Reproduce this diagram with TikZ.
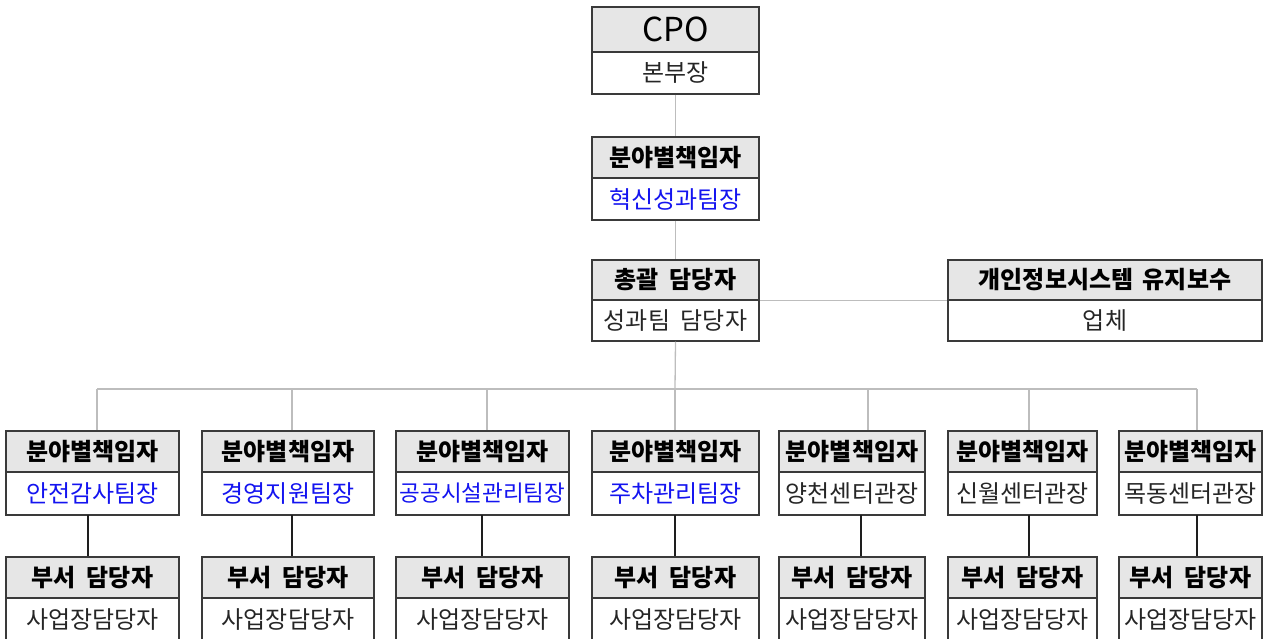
\documentclass[tikz,border=0pt]{standalone}
\usepackage{fontspec}
\setmainfont{Noto Sans CJK KR}
\definecolor{boxc}{HTML}{3A3A3A}
\definecolor{hdrfill}{HTML}{E6E6E6}
\definecolor{linkgray}{HTML}{BDBDBD}
\definecolor{linkdark}{HTML}{1E1E1E}
\definecolor{bluetxt}{HTML}{1414F0}
\tikzset{
  hdr/.style={draw=boxc, fill=hdrfill, line width=1.1pt, inner sep=0pt, text=black,
    font=\bfseries\fontsize{24}{28}\selectfont},
  bdy/.style={draw=boxc, fill=white, line width=1.1pt, inner sep=0pt, text=black!85,
    font=\fontsize{24}{28}\selectfont},
  bluebody/.style={text=bluetxt},
  graylink/.style={draw=linkgray, line width=1.3pt},
  darklink/.style={draw=linkdark, line width=1.1pt},
}
% name, x1, x2, ytop, ymid, ybot, header, body style, body text
\newcommand\obox[9]{%
  \node[hdr, minimum width={(#3-#2)*1pt}, minimum height={(#5-#4)*1pt}]
    (#1h) at ({(#2+#3)/2},{(#4+#5)/2}) {#7};
  \node[bdy, #8, minimum width={(#3-#2)*1pt}, minimum height={(#6-#5)*1pt}]
    (#1b) at ({(#2+#3)/2},{(#5+#6)/2}) {#9};
}
\begin{document}
\begin{tikzpicture}[x=1pt,y=-1pt]
\useasboundingbox (0,0) rectangle (1264,639);

\coordinate (bus) at (675,389);
\foreach \i/\x in {1/97,2/292,3/487,4/675,5/868,6/1029,7/1197}{
  \coordinate (d\i) at (\x,389);
}

\obox{cpo}{592}{759}{7}{52}{94}{\fontsize{33}{38}\selectfont\mdseries CPO}{}{본부장}
\obox{top}{592}{759}{137}{178}{220}{분야별책임자}{bluebody}{혁신성과팀장}
\obox{gen}{592}{759}{260}{300}{341}{총괄\hspace{0.45em}담당자}{}{성과팀\hspace{0.45em}담당자}
\obox{ven}{948}{1262}{260}{300}{341}{개인정보시스템\hspace{0.4em}유지보수}{}{업체}

\obox{ra}{6}{179}{431}{472}{515}{분야별책임자}{bluebody}{안전감사팀장}
\obox{rb}{202}{374}{431}{472}{515}{분야별책임자}{bluebody}{경영지원팀장}
\obox{rc}{396}{569}{431}{472}{515}{분야별책임자}{bluebody,font=\fontsize{22.5}{26}\selectfont}{공공시설관리팀장}
\obox{rd}{592}{759}{431}{472}{515}{분야별책임자}{bluebody}{주차관리팀장}
\obox{re}{779}{925}{431}{472}{515}{분야별책임자}{}{양천센터관장}
\obox{rf}{948}{1097}{431}{472}{515}{분야별책임자}{}{신월센터관장}
\obox{rg}{1119}{1262}{431}{472}{515}{분야별책임자}{}{목동센터관장}

\obox{sa}{6}{179}{557}{598}{641}{부서\hspace{0.45em}담당자}{}{사업장담당자}
\obox{sb}{202}{374}{557}{598}{641}{부서\hspace{0.45em}담당자}{}{사업장담당자}
\obox{sc}{396}{569}{557}{598}{641}{부서\hspace{0.45em}담당자}{}{사업장담당자}
\obox{sd}{592}{759}{557}{598}{641}{부서\hspace{0.45em}담당자}{}{사업장담당자}
\obox{se}{779}{925}{557}{598}{641}{부서\hspace{0.45em}담당자}{}{사업장담당자}
\obox{sf}{948}{1097}{557}{598}{641}{부서\hspace{0.45em}담당자}{}{사업장담당자}
\obox{sg}{1119}{1262}{557}{598}{641}{부서\hspace{0.45em}담당자}{}{사업장담당자}

% gray connectors
\draw[graylink] (cpob.south) -- (toph.north);
\draw[graylink] (topb.south) -- (genh.north);
\draw[graylink] (genh.south east) -- (venh.south west);
\draw[graylink] (genb.south) -- (bus);
\draw[graylink] (d1) -- (d7);
\foreach \i/\n in {1/ra,2/rb,3/rc,4/rd,5/re,6/rf,7/rg}{
  \draw[graylink] (d\i) -- (d\i |- \n h.north);
}
% dark connectors
\foreach \a/\b/\x in {ra/sa/88,rb/sb/292,rc/sc/482,rd/sd/675,re/se/861,rf/sf/1029,rg/sg/1197}{
  \coordinate (c\a) at (\x,515);
  \draw[darklink] (c\a) -- (c\a |- \b h.north);
}
\end{tikzpicture}
\end{document}
